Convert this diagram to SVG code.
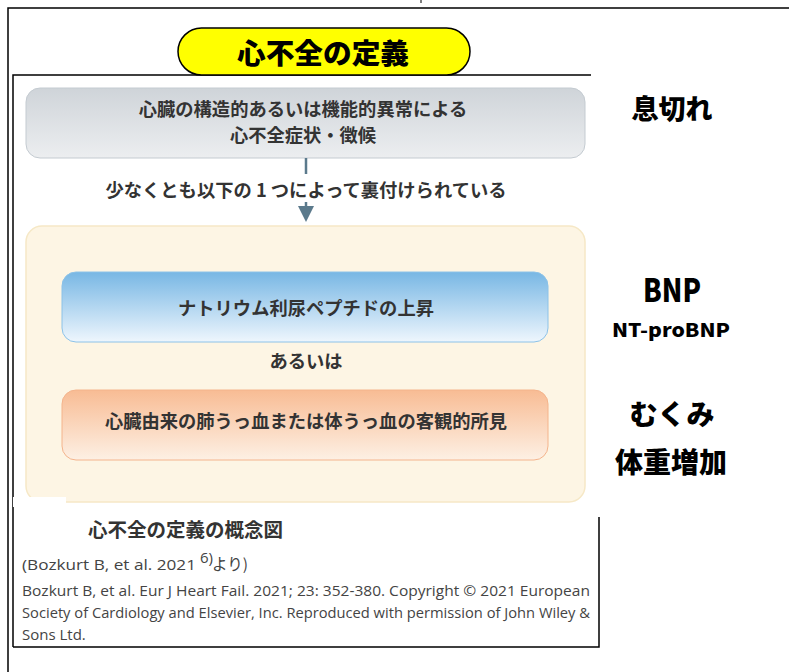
<svg xmlns="http://www.w3.org/2000/svg" width="789" height="672" viewBox="0 0 789 672">
<defs>
<linearGradient id="gGray" x1="0" y1="0" x2="0" y2="1"><stop offset="0" stop-color="#cfd4d9"/><stop offset="1" stop-color="#eceef0"/></linearGradient>
<linearGradient id="gBlue" x1="0" y1="0" x2="0" y2="1"><stop offset="0" stop-color="#78b7e4"/><stop offset="1" stop-color="#eef6fd"/></linearGradient>
<linearGradient id="gOrange" x1="0" y1="0" x2="0" y2="1"><stop offset="0" stop-color="#f8bc94"/><stop offset="1" stop-color="#fdf0e4"/></linearGradient>
<style>
.jp{font-family:"Noto Sans CJK JP","Noto Sans",sans-serif;}
.box{font-family:"Noto Sans CJK JP",sans-serif;font-weight:700;font-size:18.3px;fill:#333;text-anchor:middle;}
.side{font-family:"Noto Sans CJK JP",sans-serif;font-weight:900;fill:#000;text-anchor:middle;}
.ref{font-family:"Open Sans","Noto Sans",sans-serif;font-size:15px;fill:#444;}
.frame{fill:none;stroke:#000;stroke-width:1.5;}
</style>
</defs>
<rect width="789" height="672" fill="#fff"/>
<g id="frames">
<path class="frame" d="M8,672 L8,8 L789,8"/>
<line x1="421" y1="0" x2="421" y2="3" stroke="#000" stroke-width="1"/>
<path class="frame" d="M13,647 L13,75 L591,75"/>
<path class="frame" d="M13,647 L599,647 L599,517" stroke="#333"/>
</g>
<g id="title">
<rect x="178" y="28" width="292" height="47" rx="23.5" fill="#ffff00" stroke="#000" stroke-width="1.5"/>
<text x="323" y="64" class="side" font-size="28" textLength="172" lengthAdjust="spacingAndGlyphs">心不全の定義</text>
</g>
<g id="node-top">
<rect x="26" y="88" width="559" height="70" rx="14" fill="url(#gGray)" stroke="#c4cbd1" stroke-width="1"/>
<text x="303" y="116" class="box">心臓の構造的あるいは機能的異常による</text>
<text x="303" y="142" class="box">心不全症状・徴候</text>
</g>
<g id="connectors">
<line x1="306" y1="158" x2="306" y2="208" stroke="#5b7a8c" stroke-width="2.5"/>
<path d="M298,206 L314,206 L306,222 Z" fill="#5b7a8c"/>
<rect x="96" y="174" width="420" height="28" fill="#fff"/>
<text x="306" y="197" class="box" font-size="20">少なくとも以下の 1 つによって裏付けられている</text>
</g>
<g id="node-group">
<rect x="26" y="226" width="559" height="276" rx="16" fill="#fdf5e4" stroke="#f6e8c6" stroke-width="1.5"/>
<rect x="13" y="497" width="53" height="10" fill="#fff"/>
</g>
<g id="node-bnp">
<rect x="62" y="272" width="486" height="70" rx="14" fill="url(#gBlue)" stroke="#8cc2e8" stroke-width="1"/>
<text x="306" y="315" class="box">ナトリウム利尿ペプチドの上昇</text>
</g>
<g id="node-or">
<text x="306" y="368" class="box">あるいは</text>
</g>
<g id="node-congestion">
<rect x="62" y="390" width="486" height="70" rx="14" fill="url(#gOrange)" stroke="#f4b48c" stroke-width="1"/>
<text x="306" y="428" class="box">心臓由来の肺うっ血または体うっ血の客観的所見</text>
</g>
<g id="caption">
<text x="88" y="537" class="jp" font-size="19.5" font-weight="700" fill="#333">心不全の定義の概念図</text>
<text x="22" y="570" class="ref" textLength="174" lengthAdjust="spacingAndGlyphs">(Bozkurt B, et al. 2021</text>
<text x="200" y="563" class="ref" font-size="8">6)</text>
<text x="212" y="570" class="jp" font-size="15.5" fill="#444">より)</text>
<text x="22" y="596" class="ref" textLength="568" lengthAdjust="spacingAndGlyphs">Bozkurt B, et al. Eur J Heart Fail. 2021; 23: 352-380. Copyright © 2021 European</text>
<text x="22" y="618" class="ref" textLength="568" lengthAdjust="spacingAndGlyphs">Society of Cardiology and Elsevier, Inc. Reproduced with permission of John Wiley &amp;</text>
<text x="22" y="640" class="ref">Sons Ltd.</text>
</g>
<g id="side-labels">
<text x="672" y="119" class="side" font-size="27">息切れ</text>
<text x="672" y="302" class="side" font-size="32" textLength="58" lengthAdjust="spacingAndGlyphs">BNP</text>
<text x="671" y="337" class="side" font-size="19" textLength="118" lengthAdjust="spacingAndGlyphs">NT-proBNP</text>
<text x="672" y="425" class="side" font-size="28">むくみ</text>
<text x="671" y="473" class="side" font-size="28">体重増加</text>
</g>
</svg>
